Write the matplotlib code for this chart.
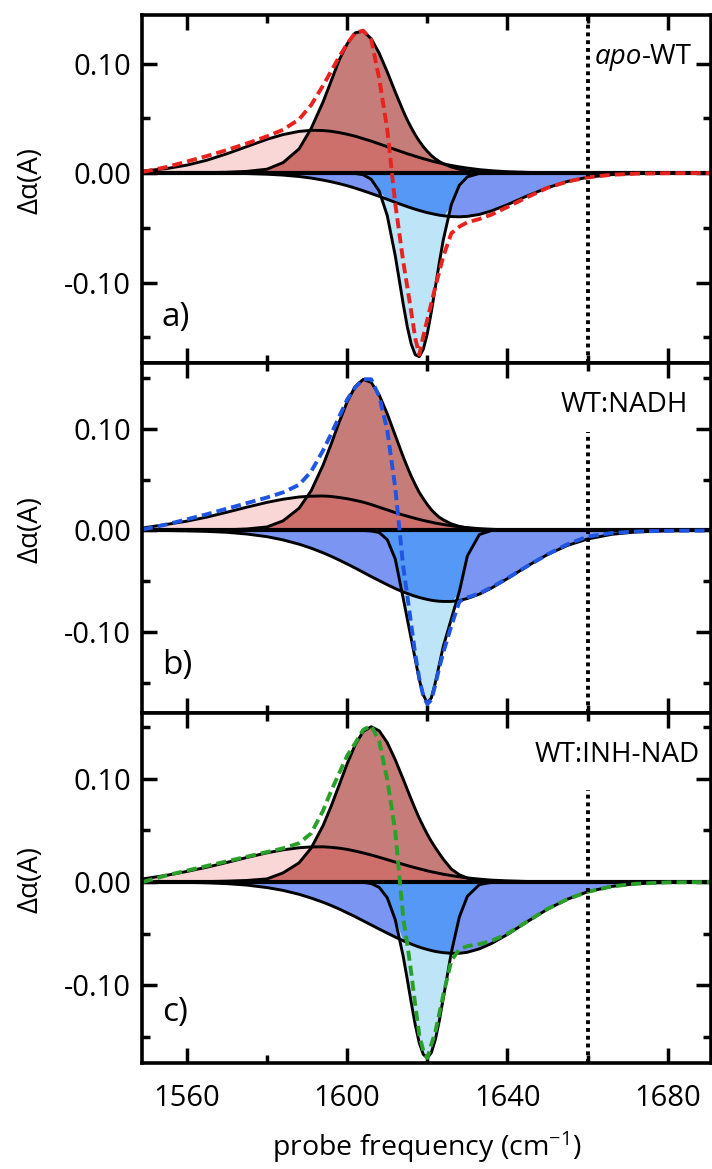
import numpy as np
import matplotlib
matplotlib.use('Agg')
import matplotlib.pyplot as plt
from matplotlib.ticker import MultipleLocator, FormatStrFormatter

plt.rcParams['font.family'] = ['Open Sans', 'DejaVu Sans']
plt.rcParams['mathtext.fontset'] = 'custom'
plt.rcParams['mathtext.rm'] = 'Open Sans'
plt.rcParams['mathtext.it'] = 'Open Sans:italic'
plt.rcParams['axes.unicode_minus'] = False

# probe frequency grid (cm-1)
freq = [1549, 1555, 1560, 1565, 1570, 1575, 1580,
        1584, 1588, 1591, 1594, 1596, 1598, 1600,
        1602, 1604, 1606, 1608, 1610, 1612,
        1614, 1615, 1616, 1617, 1618, 1619, 1620, 1621, 1622, 1623, 1624,
        1626, 1628, 1630, 1633, 1636, 1640,
        1645, 1650, 1655, 1660, 1666, 1672, 1680, 1691]

# panel a) apo-WT
a_narrow_pos = [0, 0, 0.0001, 0.0003, 0.0007, 0.0015, 0.0035,
                0.0095, 0.022, 0.0406, 0.065, 0.084, 0.103, 0.118,
                0.128, 0.1295, 0.1227, 0.1094, 0.0924, 0.074,
                0.0565, 0.0485, 0.0413, 0.0348, 0.0291, 0.0241, 0.0198, 0.016, 0.013, 0.0105, 0.0085,
                0.0055, 0.0035, 0.002, 0.001, 0.0005, 0.0002,
                0, 0, 0, 0, 0, 0, 0, 0]
a_broad_pos = [0.0018, 0.0041, 0.0072, 0.0117, 0.0176, 0.0242, 0.0308,
               0.0351, 0.038, 0.039, 0.0388, 0.0381, 0.0369, 0.0354,
               0.0336, 0.0314, 0.0291, 0.0266, 0.024, 0.0214,
               0.0189, 0.0176, 0.0165, 0.0153, 0.0142, 0.0131, 0.0121, 0.011, 0.0101, 0.0093, 0.0084,
               0.0069, 0.0056, 0.0045, 0.0031, 0.0021, 0.0012,
               0.0006, 0.0002, 0, 0, 0, 0, 0, 0]
a_narrow_neg = [0, 0, 0, 0, 0, 0, 0,
                0, 0, 0, 0, 0, 0, 0,
                -0.0004, -0.0016, -0.0057, -0.0165, -0.0388, -0.0755,
                -0.1198, -0.1403, -0.1564, -0.166, -0.1677, -0.161, -0.1467, -0.127, -0.1045, -0.0818, -0.0609,
                -0.0287, -0.0111, -0.0035, -0.0004, 0, 0,
                0, 0, 0, 0, 0, 0, 0, 0]
a_broad_neg = [0, 0, 0, -0.0001, -0.0002, -0.0005, -0.0011,
               -0.0019, -0.0032, -0.0046, -0.0065, -0.008, -0.0097, -0.0116,
               -0.0138, -0.0162, -0.0187, -0.0213, -0.024, -0.0268,
               -0.0294, -0.0307, -0.0319, -0.0331, -0.0342, -0.0352, -0.0362, -0.037, -0.0378, -0.0385, -0.039,
               -0.0398, -0.04, -0.0396, -0.0378, -0.0346, -0.0289,
               -0.0208, -0.0134, -0.0077, -0.0039, -0.0015, -0.0005, -0.0001, 0]
a_data = [0.001, 0.0055, 0.0105, 0.0155, 0.021, 0.027, 0.0335,
          0.0395, 0.049, 0.062, 0.080, 0.093, 0.106, 0.118,
          0.128, 0.130, 0.122, 0.086, 0.040, -0.028,
          -0.081, -0.104, -0.127, -0.151, -0.166, -0.149, -0.134, -0.119, -0.104, -0.090, -0.076,
          -0.055, -0.049, -0.045, -0.042, -0.038, -0.031,
          -0.022, -0.0135, -0.0078, -0.004, -0.0016, -0.0006, -0.0002, 0]

# panel b) WT:NADH
b_narrow_pos = [0, 0, 0.0001, 0.0003, 0.0007, 0.0015, 0.0035,
                0.0095, 0.0219, 0.039, 0.0645, 0.0851, 0.1067, 0.1267,
                0.1418, 0.1488, 0.1459, 0.1335, 0.115, 0.0937,
                0.0725, 0.0626, 0.0534, 0.0451, 0.0375, 0.0313, 0.0256, 0.0205, 0.0165, 0.013, 0.0105,
                0.0065, 0.004, 0.0025, 0.0012, 0.0006, 0.0002,
                0, 0, 0, 0, 0, 0, 0, 0]
b_broad_pos = [0.0025, 0.006, 0.0092, 0.0132, 0.018, 0.023, 0.0277,
               0.0308, 0.033, 0.0338, 0.034, 0.0335, 0.0325, 0.0313,
               0.0297, 0.0279, 0.0256, 0.0229, 0.0203, 0.0176,
               0.0152, 0.0141, 0.013, 0.0119, 0.0109, 0.0099, 0.009, 0.0082, 0.0073, 0.0066, 0.0059,
               0.0047, 0.0036, 0.0028, 0.0018, 0.0012, 0.0006,
               0.0002, 0, 0, 0, 0, 0, 0, 0]
b_narrow_neg = [0, 0, 0, 0, 0, 0, 0,
                0, 0, 0, 0, 0, 0, 0,
                0, 0, -0.0005, -0.002, -0.009, -0.028,
                -0.067, -0.087, -0.107, -0.127, -0.147, -0.162, -0.170, -0.165, -0.150, -0.132, -0.114,
                -0.087, -0.060, -0.025, -0.004, 0, 0,
                0, 0, 0, 0, 0, 0, 0, 0]
b_broad_neg = [0, -0.0001, -0.0004, -0.0009, -0.0018, -0.0035, -0.0061,
               -0.0093, -0.0135, -0.0174, -0.022, -0.0254, -0.0291, -0.033,
               -0.037, -0.0412, -0.0454, -0.0494, -0.0534, -0.0572,
               -0.0606, -0.062, -0.0635, -0.0648, -0.066, -0.067, -0.0679, -0.0687, -0.0693, -0.0697, -0.0699,
               -0.0699, -0.069, -0.067, -0.0627, -0.0568, -0.0474,
               -0.035, -0.0237, -0.0147, -0.0084, -0.0038, -0.0015, -0.0004, 0]
b_data = [0.001, 0.006, 0.011, 0.016, 0.0215, 0.027, 0.0325,
          0.0375, 0.045, 0.058, 0.079, 0.095, 0.112, 0.129,
          0.141, 0.149, 0.149, 0.132, 0.099, 0.042,
          -0.036, -0.064, -0.093, -0.122, -0.146, -0.163, -0.171, -0.167, -0.152, -0.135, -0.120,
          -0.094, -0.070, -0.066, -0.062, -0.056, -0.047,
          -0.035, -0.0235, -0.0135, -0.006, -0.0025, -0.001, -0.0003, 0]

# panel c) WT:INH-NAD
c_narrow_pos = [0, 0.0001, 0.0002, 0.0004, 0.0008, 0.0015, 0.003,
                0.0088, 0.0185, 0.0327, 0.0546, 0.0732, 0.0936, 0.1143,
                0.1326, 0.1455, 0.150, 0.1461, 0.1347, 0.1182,
                0.0992, 0.0894, 0.0798, 0.0704, 0.0616, 0.0537, 0.0461, 0.0393, 0.0332, 0.0275, 0.022,
                0.0125, 0.007, 0.0038, 0.0015, 0.0007, 0.0003,
                0.0001, 0, 0, 0, 0, 0, 0, 0]
c_broad_pos = [0.003, 0.0065, 0.0102, 0.0143, 0.0189, 0.0237, 0.0282,
               0.0311, 0.0331, 0.0339, 0.034, 0.0335, 0.0327, 0.0315,
               0.0299, 0.0281, 0.0261, 0.0239, 0.0216, 0.0193,
               0.017, 0.0159, 0.0148, 0.0138, 0.0128, 0.0118, 0.0108, 0.0099, 0.0091, 0.0083, 0.0075,
               0.0062, 0.005, 0.0039, 0.0028, 0.0018, 0.0011,
               0.0005, 0.0002, 0, 0, 0, 0, 0, 0]
c_narrow_neg = [0, 0, 0, 0, 0, 0, 0,
                0, 0, 0, 0, 0, 0, 0,
                0, -0.0003, -0.0015, -0.0052, -0.0152, -0.0364,
                -0.0721, -0.094, -0.1168, -0.1382, -0.1556, -0.1666, -0.170, -0.165, -0.1525, -0.1341, -0.1122,
                -0.068, -0.0337, -0.0138, -0.0025, -0.0003, 0,
                0, 0, 0, 0, 0, 0, 0, 0]
c_broad_neg = [-0.0001, -0.0002, -0.0004, -0.0008, -0.0016, -0.003, -0.0054,
               -0.0081, -0.0119, -0.0155, -0.0196, -0.0227, -0.0261, -0.0298,
               -0.0335, -0.0375, -0.0415, -0.0455, -0.0494, -0.0532,
               -0.0568, -0.0584, -0.06, -0.0615, -0.0629, -0.0641, -0.0652, -0.0662, -0.0671, -0.0677, -0.0683,
               -0.0689, -0.0689, -0.0679, -0.0646, -0.0595, -0.0507,
               -0.0382, -0.0263, -0.0166, -0.0095, -0.0043, -0.0017, -0.0004, 0]
c_data = [0.0, 0.0065, 0.011, 0.0155, 0.020, 0.0245, 0.029,
          0.0325, 0.0375, 0.047, 0.069, 0.088, 0.105, 0.122,
          0.134, 0.147, 0.151, 0.136, 0.099, 0.049,
          -0.035, -0.060, -0.088, -0.119, -0.148, -0.163, -0.170, -0.157, -0.145, -0.127, -0.109,
          -0.076, -0.065, -0.062, -0.060, -0.057, -0.050,
          -0.038, -0.026, -0.0165, -0.0095, -0.0043, -0.0017, -0.0004, 0]

panels = [
    dict(np_=a_narrow_pos, bp=a_broad_pos, nn=a_narrow_neg, bn=a_broad_neg, data=a_data,
         color='#e8231f', ylim=(-0.1735, 0.1443), letter='a)', letter_y=0.13, vl_top=1.0,
         rect=[142, 15, 569, 348]),
    dict(np_=b_narrow_pos, bp=b_broad_pos, nn=b_narrow_neg, bn=b_broad_neg, data=b_data,
         color='#1f55e0', ylim=(-0.1798, 0.165), letter='b)', letter_y=0.137, vl_top=0.803,
         rect=[142, 363, 569, 350]),
    dict(np_=c_narrow_pos, bp=c_broad_pos, nn=c_narrow_neg, bn=c_broad_neg, data=c_data,
         color='#2aa02a', ylim=(-0.1749, 0.1633), letter='c)', letter_y=0.143, vl_top=0.78,
         rect=[142, 713, 569, 350]),
]

W, H = 712, 1169
fig = plt.figure(figsize=(W / 100, H / 100), dpi=100)
x = np.array(freq)
axes = []
for i, p in enumerate(panels):
    l, t, w, h = p['rect']
    ax = fig.add_axes([l / W, (H - t - h) / H, w / W, h / H])
    axes.append(ax)
    npos = np.array(p['np_'])
    bpos = np.array(p['bp'])
    nneg = np.array(p['nn'])
    bneg = np.array(p['bn'])

    # filled components
    ax.fill_between(x, 0, bpos, color='#f9d7d6', lw=0)
    ax.fill_between(x, 0, npos, color='#c67c79', lw=0)
    ax.fill_between(x, 0, np.minimum(npos, bpos), color='#cd6f6b', lw=0)
    ax.fill_between(x, 0, bneg, color='#7b96f2', lw=0)
    ax.fill_between(x, 0, nneg, color='#bee4f8', lw=0)
    ax.fill_between(x, 0, np.maximum(nneg, bneg), color='#5598f6', lw=0)

    for comp in (bpos, npos, bneg, nneg):
        ax.plot(x, comp, color='black', lw=2.1, solid_joinstyle='round')
    ax.axhline(0, color='black', lw=3.0)
    ax.plot(x, p['data'], color=p['color'], lw=2.8, dashes=(2.6, 1.3))
    ax.axvline(1660, ymin=0, ymax=p['vl_top'], color='black', lw=2.8, linestyle=(0, (1, 1)))

    ax.set_xlim(1548.8, 1690.8)
    ax.set_ylim(*p['ylim'])
    ax.set_xticks([1560, 1600, 1640, 1680])
    ax.xaxis.set_minor_locator(MultipleLocator(20))
    ax.set_yticks([-0.10, 0.0, 0.10])
    ax.yaxis.set_minor_locator(MultipleLocator(0.05))
    ax.yaxis.set_major_formatter(FormatStrFormatter('%.2f'))
    ax.tick_params(which='both', direction='in', top=True, right=True, width=2.5)
    ax.tick_params(which='major', length=11, labelsize=21, pad=8)
    ax.tick_params(which='minor', length=6)
    ax.tick_params(axis='x', which='major', labelsize=21, pad=15)
    if i < 2:
        ax.tick_params(labelbottom=False)
    for s in ax.spines.values():
        s.set_linewidth(2.6)

    ax.set_ylabel('Δα(A)', fontsize=20)
    ax.yaxis.set_label_coords(-0.172, 0.525)
    ax.text(0.035, p['letter_y'], p['letter'], transform=ax.transAxes,
            fontsize=24, ha='left', va='center')

# sample labels
t = axes[0].text(0.9666, 0.879, '-WT', transform=axes[0].transAxes,
                 fontsize=20, ha='right', va='center')
axes[0].annotate('apo', xy=(0, 0), xycoords=t, fontsize=20, ha='right',
                 va='bottom', style='italic')
axes[1].text(0.9596, 0.88, 'WT:NADH', transform=axes[1].transAxes,
             fontsize=20, ha='right', va='center')
axes[2].text(0.981, 0.88, 'WT:INH-NAD', transform=axes[2].transAxes,
             fontsize=20, ha='right', va='center')

axes[2].set_xlabel('probe frequency (cm$^{-1}$)', fontsize=20.5)
axes[2].xaxis.set_label_coords(0.5, -0.19)

fig.savefig('out.png', dpi=100)
